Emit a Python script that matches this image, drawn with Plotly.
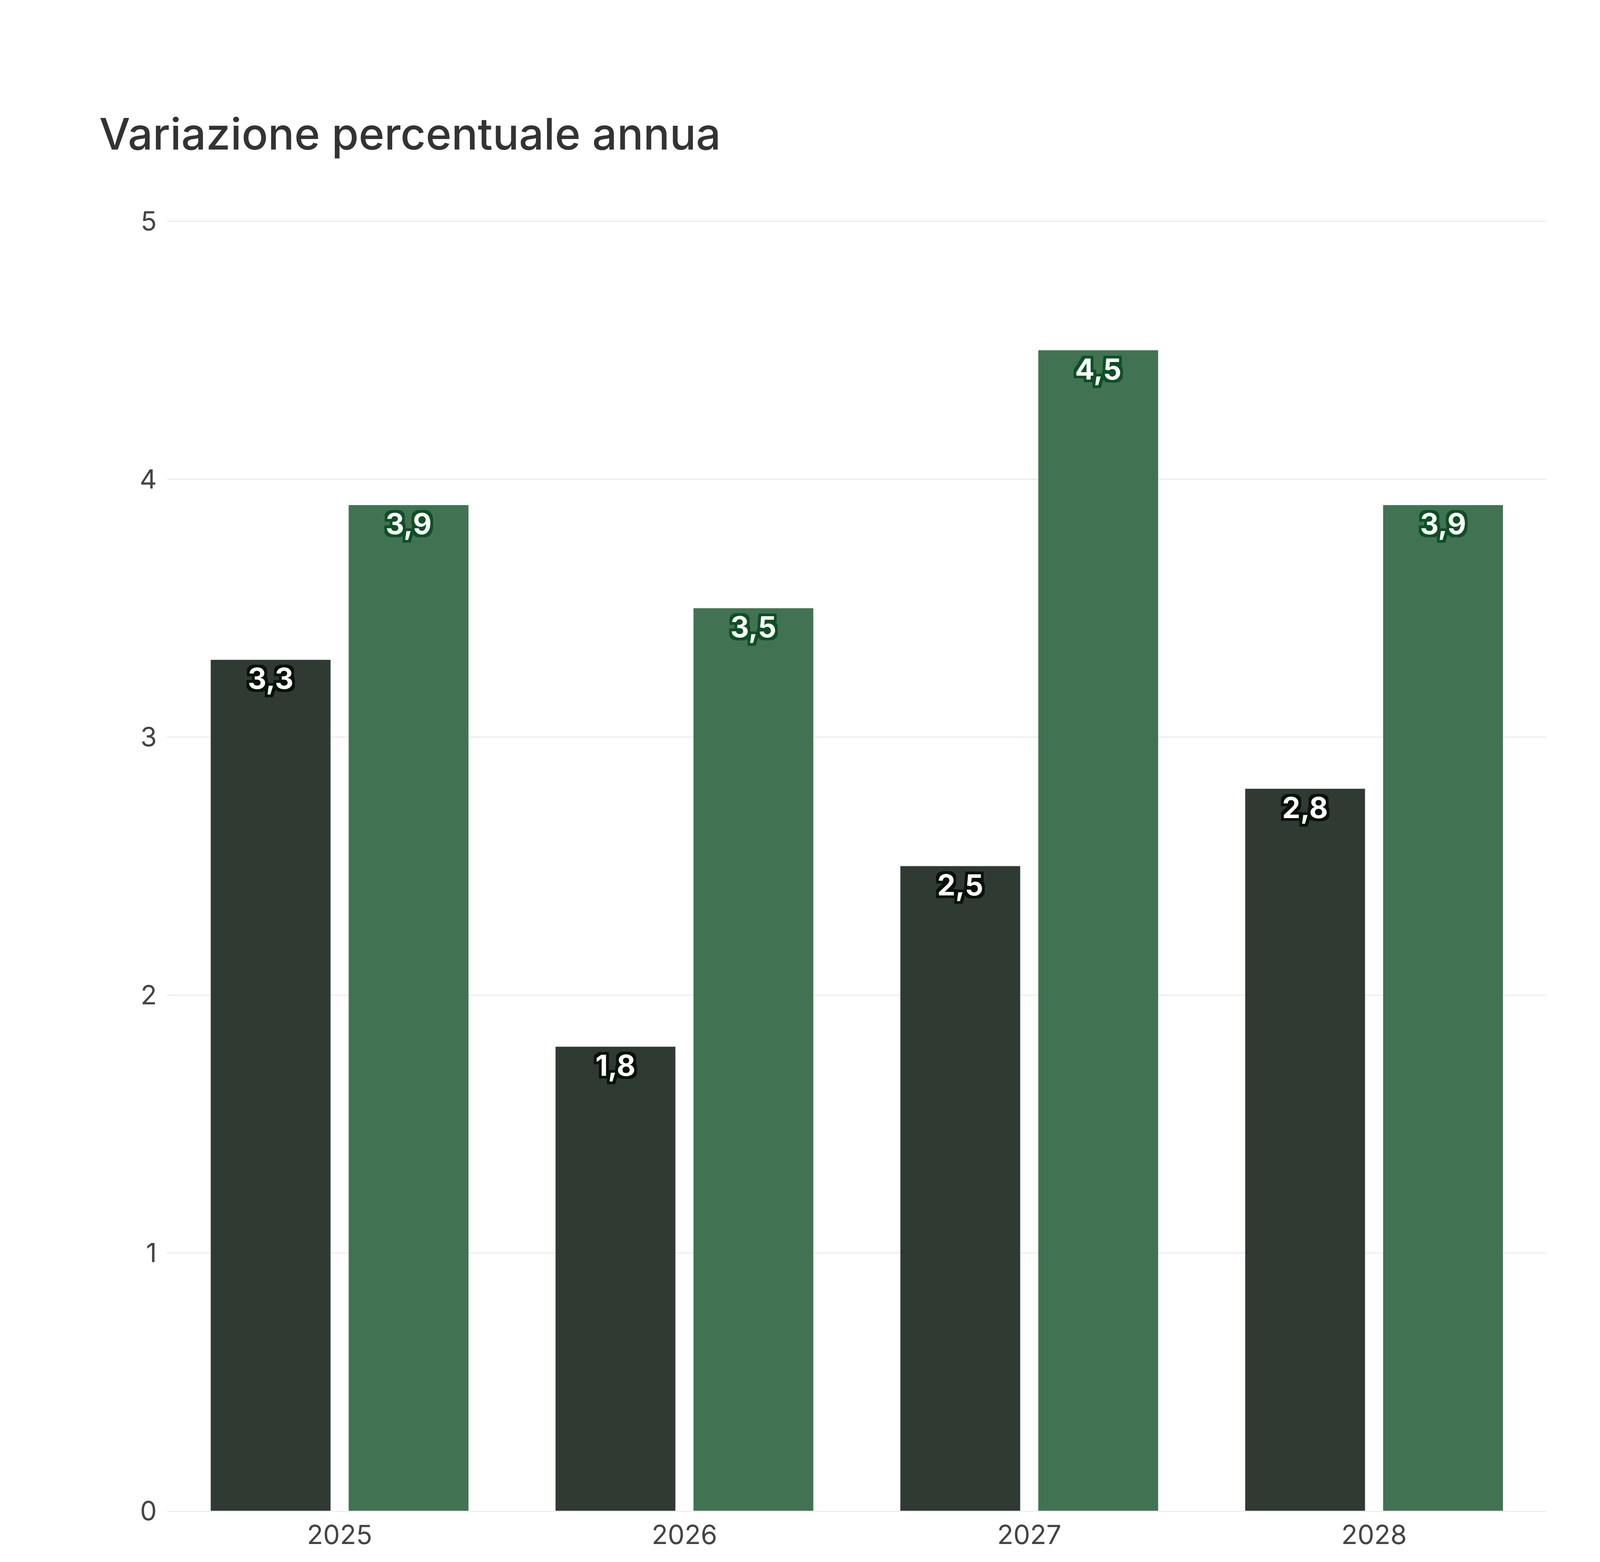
import plotly.graph_objects as go

anni = ["2025", "2026", "2027", "2028"]
serie_a = [3.3, 1.8, 2.5, 2.8]
serie_b = [3.9, 3.5, 4.5, 3.9]


def outline(c, r=7):
    # fake a thick text stroke with a ring of shadows
    pts = [(r, 0), (-r, 0), (0, r), (0, -r), (r, r), (-r, -r), (r, -r), (-r, r),
           (r, r // 2), (-r, r // 2), (r // 2, r), (r // 2, -r),
           (-r, -r // 2), (r, -r // 2), (-r // 2, r), (-r // 2, -r)]
    return ", ".join(f"{x}px {y}px 0 {c}" for x, y in pts)


fig = go.Figure()
fig.add_trace(go.Bar(
    x=anni, y=serie_a, name="Serie A",
    marker_color="#2f3a33",
    texttemplate="%{y:.1f}", textposition="inside", insidetextanchor="end",
    textfont=dict(family="Inter", size=74, color="white", weight="bold",
                  shadow=outline("#07120a")),
))
fig.add_trace(go.Bar(
    x=anni, y=serie_b, name="Serie B",
    marker_color="#417352",
    texttemplate="%{y:.1f}", textposition="inside", insidetextanchor="end",
    textfont=dict(family="Inter", size=74, color="white", weight="bold",
                  shadow=outline("#0f4f26")),
))

fig.update_layout(
    width=4242, height=4000,
    separators=",.",
    barmode="group", bargap=0.2, bargroupgap=0.13,
    showlegend=False,
    plot_bgcolor="white", paper_bgcolor="white",
    font=dict(family="Inter", color="#333333"),
    title=dict(text="Variazione percentuale annua", x=0.058, xanchor="left",
               y=0.916, yanchor="middle",
               font=dict(size=112, color="#333333", weight=500)),
    margin=dict(l=420, r=291, t=552, b=139),
)
fig.update_xaxes(tickfont=dict(size=68, color="#444444"), showgrid=False,
                 showline=True, linecolor="#eeeeee", linewidth=3, ticks="")
fig.update_yaxes(range=[0, 5.01], tickvals=[0, 1, 2, 3, 4, 5],
                 tickfont=dict(size=68, color="#444444"),
                 gridcolor="#ececec", gridwidth=3, zeroline=False, ticklen=12,
                 ticks="outside", tickcolor="white")

fig.write_html("out.html")
